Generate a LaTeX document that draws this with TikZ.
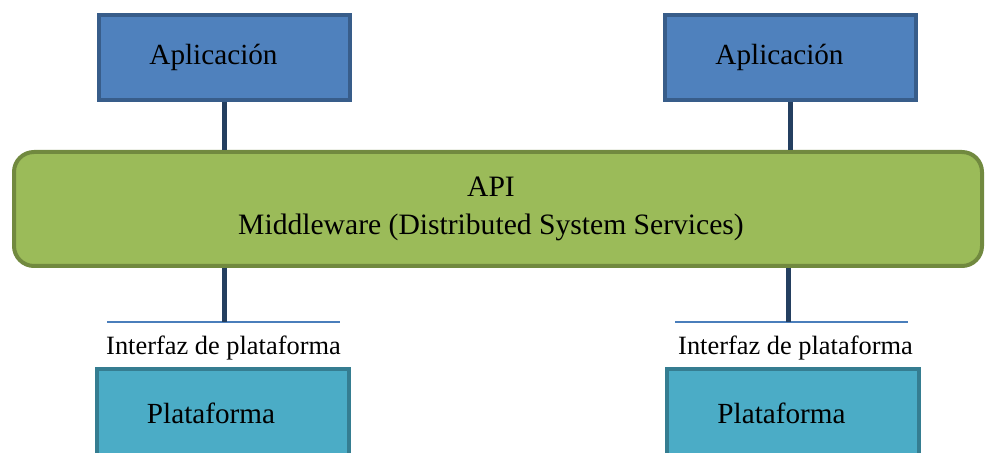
\documentclass[tikz,border=0pt]{standalone}
\usepackage{fontspec}
\setmainfont{Liberation Serif}
\usetikzlibrary{positioning}

\definecolor{appfill}{RGB}{79,129,189}
\definecolor{appline}{RGB}{56,93,138}
\definecolor{mwfill}{RGB}{155,187,89}
\definecolor{mwline}{RGB}{113,137,63}
\definecolor{platfill}{RGB}{75,172,198}
\definecolor{platline}{RGB}{53,125,145}
\definecolor{linkcol}{RGB}{36,63,96}
\definecolor{buscol}{RGB}{74,126,187}

\tikzset{
  appbox/.style={draw=appline,fill=appfill,line width=2pt,minimum width=125.5pt,minimum height=42.5pt,inner sep=0pt},
  platbox/.style={draw=platline,fill=platfill,line width=2pt,minimum width=126pt,minimum height=44pt,inner sep=0pt},
  mwbox/.style={draw=mwline,fill=mwfill,line width=2pt,rounded corners=10pt,minimum width=484pt,minimum height=57pt,inner sep=0pt},
  boxtext/.style={font=\fontsize{14.6}{17}\selectfont,inner sep=0pt},
  mwtext/.style={font=\fontsize{14.8}{19}\selectfont,align=center,inner sep=0pt},
  iftext/.style={font=\fontsize{13.2}{16}\selectfont,inner sep=0pt,anchor=base},
  link/.style={draw=linkcol,line width=2.5pt},
  bus/.style={draw=buscol,line width=1pt}
}

\begin{document}
\begin{tikzpicture}[x=0.5pt,y=0.5pt,yscale=-1,xscale=1]
\useasboundingbox (0,0) rectangle (985,453);

%Shape: Rectangle [Aplicacion izquierda]
\node [appbox, label={[boxtext, name=app1txt, xshift=-5.5pt]center:Aplicación}] (app1) at (224.5,57.5) {};
%Shape: Rectangle [Aplicacion derecha]
\node [appbox, label={[boxtext, name=app2txt, xshift=-5.5pt]center:Aplicación}] (app2) at (790.5,57.5) {};

%Shape: Rounded Rect [Middleware]
\node [mwbox, label={[mwtext, name=mwtxt, xshift=-3.5pt]center:API\\Middleware (Distributed System Services)}] (mw) at (498,209) {};

%Shape: Rectangle [Plataforma]
\node [platbox, label={[boxtext, name=plat1txt, xshift=-6pt]center:Plataforma}] (plat1) at (223,413) {};
\node [platbox, label={[boxtext, name=plat2txt, xshift=-5.5pt]center:Plataforma}] (plat2) at (792.5,413) {};

%Straight Lines [interfaz]
\coordinate (bus1w) at (107,322);
\coordinate (bus1e) at (340,322);
\coordinate (bus2w) at (675,322);
\coordinate (bus2e) at (908,322);
\coordinate (bus1) at (224,322);
\coordinate (bus2) at (788,322);
\draw [bus] (bus1w) -- (bus1e);
\draw [bus] (bus2w) -- (bus2e);

%Straight Lines [conexiones]
\draw [link] (app1.south) -- (app1.south |- mw.north);
\draw [link] (app2.south) -- (app2.south |- mw.north);
\draw [link] (bus1 |- mw.south) -- (bus1);
\draw [link] (bus2 |- mw.south) -- (bus2);

% Text Node
\node [iftext] (if1) at (223.5,355) {Interfaz de plataforma};
% Text Node
\node [iftext] (if2) at (795.5,355) {Interfaz de plataforma};

\end{tikzpicture}
\end{document}
